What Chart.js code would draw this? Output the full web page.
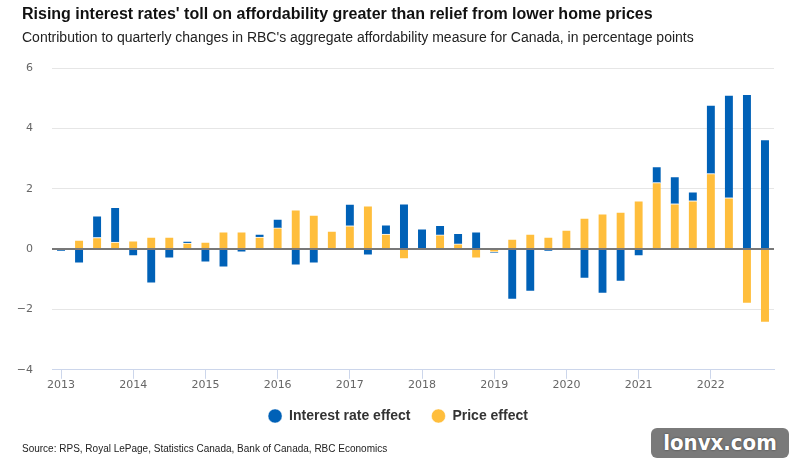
<!DOCTYPE html>
<html lang="en">

<head>
    <meta charset="UTF-8">
    <title>Affordability contributions</title>
    <script src="https://cdn.jsdelivr.net/npm/chart.js"></script>
    <style>
        body { margin: 0; background: #fff; font-family: "Liberation Sans", Arial, sans-serif; }
        #wrap { position: relative; width: 793px; height: 462px; overflow: hidden; }
        #title { position: absolute; left: 22px; top: 5px; font-size: 16px; font-weight: bold; color: #111; }
        #sub { position: absolute; left: 22px; top: 29px; font-size: 14px; color: #222; }
        #source { position: absolute; left: 22px; top: 443px; font-size: 10px; color: #222; }
        #mark { position: absolute; left: 651px; top: 428px; width: 138px; height: 30px; border-radius: 6px;
            background: #7a7a7a; color: #fff; font: bold 22px "DejaVu Sans Condensed", "DejaVu Sans", sans-serif;
            text-align: center; line-height: 30px; text-shadow: 0 0 2px #333; }
        #c { position: absolute; left: 0; top: 0; }
    </style>
</head>

<body>
    <div id="wrap">
        <canvas id="c" width="793" height="462"></canvas>
        <div id="title">Rising interest rates' toll on affordability greater than relief from lower home prices</div>
        <div id="sub">Contribution to quarterly changes in RBC's aggregate affordability measure for Canada, in percentage points</div>
        <div id="source">Source: RPS, Royal LePage, Statistics Canada, Bank of Canada, RBC Economics</div>
        <div id="mark">lonvx.com</div>
    </div>
</body>
<script>
    // quarters 2013Q1 .. 2022Q4
    const years = [2013, 2014, 2015, 2016, 2017, 2018, 2019, 2020, 2021, 2022];
    const quarters = [];
    years.forEach((y) => { for (let q = 1; q <= 4; q++) quarters.push(y + " Q" + q); });

    const interestRate = [-0.07, -0.47, 0.72, 1.15, -0.23, -1.13, -0.30, 0.06, -0.43, -0.60,
        -0.10, 0.10, 0.29, -0.53, -0.47, null, 0.72, -0.20, 0.30, 1.50,
        0.67, 0.32, 0.35, 0.57, -0.02, -1.67, -1.40, -0.07, null, -0.97,
        -1.47, -1.07, -0.23, 0.53, 0.90, 0.30, 2.27, 3.40, 5.13, 3.63];
    const priceEffect = [null, 0.30, 0.38, 0.23, 0.27, 0.40, 0.40, 0.20, 0.23, 0.57,
        0.57, 0.40, 0.70, 1.30, 1.13, 0.60, 0.77, 1.43, 0.50, -0.33,
        null, 0.47, 0.17, -0.30, -0.10, 0.33, 0.50, 0.40, 0.63, 1.03,
        1.17, 1.23, 1.60, 2.20, 1.50, 1.60, 2.50, 1.70, -1.80, -2.43];

    const blue = "#0061b7";
    const yellow = "#ffbe3c";
    const axisFont = { family: "DejaVu Sans", size: 11 };

    // zero line drawn on top of the bars
    const zeroLine = {
        id: "zeroLine",
        afterDatasetsDraw(chart) {
            const { ctx, chartArea, scales } = chart;
            const y = scales.y.getPixelForValue(0);
            ctx.save();
            ctx.strokeStyle = "#787878";
            ctx.lineWidth = 2;
            ctx.beginPath();
            ctx.moveTo(chartArea.left, y);
            ctx.lineTo(chartArea.right, y);
            ctx.stroke();
            ctx.restore();
        }
    };

    // centre the legend on the whole page, not on the padded box
    const legendShift = {
        id: "legendShift",
        afterLayout(chart) {
            chart.legend.left += 11;
            chart.legend.right += 11;
        }
    };

    const barStyle = {
        barThickness: 8,
        borderColor: "#fff",
        borderWidth: { top: 1, bottom: 1, left: 0, right: 0 },
        borderSkipped: "start",
    };

    new Chart(document.getElementById("c"), {
        type: "bar",
        data: {
            labels: quarters,
            datasets: [
                { label: "Price effect", data: priceEffect, backgroundColor: yellow, ...barStyle },
                { label: "Interest rate effect", data: interestRate, backgroundColor: blue, ...barStyle },
            ],
        },
        options: {
            responsive: false,
            animation: false,
            layout: { padding: { top: 68, right: 19, bottom: 29, left: 0 } },
            plugins: {
                legend: {
                    position: "bottom",
                    labels: {
                        usePointStyle: true,
                        pointStyle: "circle",
                        boxWidth: 14,
                        boxHeight: 10,
                        padding: 21,
                        color: "#333",
                        font: { family: "Liberation Sans", size: 14, weight: "bold" },
                        sort: (a, b) => b.datasetIndex - a.datasetIndex,
                    },
                },
                tooltip: { enabled: false },
            },
            scales: {
                x: {
                    stacked: true,
                    afterFit: (s) => { s.height -= 4; },
                    border: { display: true, color: "#ccd6eb" },
                    grid: {
                        offset: false,
                        drawOnChartArea: false,
                        tickLength: 9,
                        tickColor: (c) => (c.index % 4 === 0 ? "#ccd6eb" : "rgba(0,0,0,0)"),
                    },
                    ticks: {
                        autoSkip: false,
                        maxRotation: 0,
                        color: "#666",
                        padding: 0,
                        font: axisFont,
                        callback: (v, i) => (i % 4 === 0 ? quarters[i].slice(0, 4) : ""),
                    },
                },
                y: {
                    stacked: true,
                    min: -4,
                    max: 6,
                    afterFit: (s) => { s.width = 52; },
                    border: { display: false },
                    grid: { color: "#e6e6e6", drawTicks: false },
                    ticks: {
                        stepSize: 2,
                        padding: 19,
                        color: "#666",
                        font: axisFont,
                        callback: (v) => String(v).replace("-", "\u2212"),
                    },
                },
            },
        },
        plugins: [zeroLine, legendShift],
    });
</script>

</html>
